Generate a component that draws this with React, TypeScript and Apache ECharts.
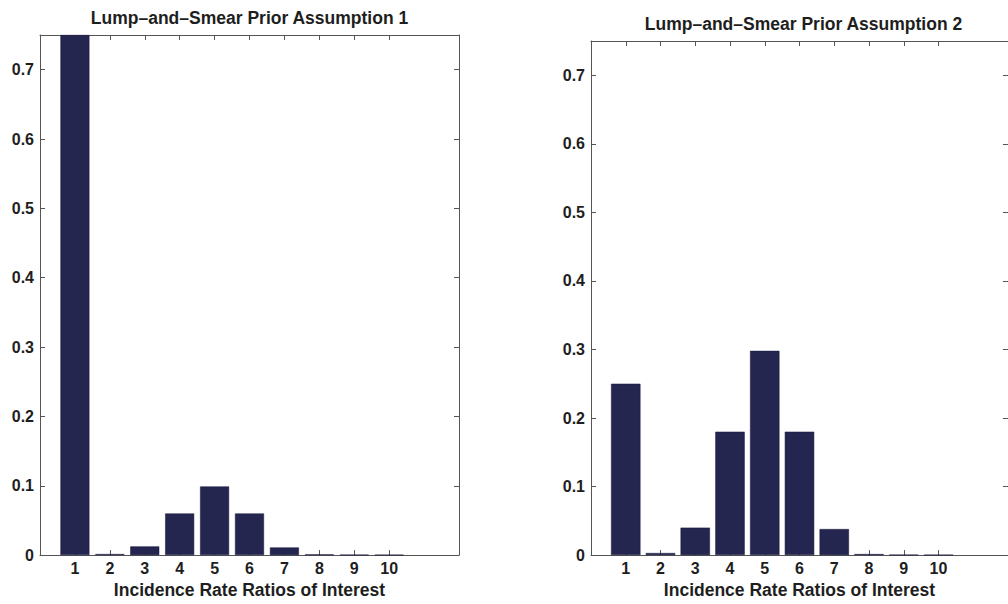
import React, { useEffect, useRef } from "react";
import * as echarts from "echarts";

const categories = [1, 2, 3, 4, 5, 6, 7, 8, 9, 10];
const prior1 = [0.75, 0.0015, 0.0125, 0.06, 0.099, 0.06, 0.011, 0.001, 0.0005, 0.0003];
const prior2 = [0.25, 0.003, 0.04, 0.18, 0.298, 0.18, 0.038, 0.0015, 0.0005, 0.0003];
const yTicks = [0, 0.1, 0.2, 0.3, 0.4, 0.5, 0.6, 0.7];
const titles = ["Lump\u2013and\u2013Smear Prior Assumption 1", "Lump\u2013and\u2013Smear Prior Assumption 2"];
const xAxisTitle = "Incidence Rate Ratios of Interest";

const FONT = "'Liberation Sans', Arial, Helvetica, sans-serif";
const TEXT = "#1e1e1e";
const AXIS = "#555555";
const BAR = "#24264f";

const grids = [
  { left: 40, top: 35, width: 419, height: 522 },
  { left: 591, top: 41, width: 425, height: 520 },
];

export default function App() {
  const ref = useRef<HTMLDivElement>(null);
  useEffect(() => {
    if (!ref.current) return;
    const chart = echarts.init(ref.current, null, { renderer: "svg" });
    const xAxes: any[] = [];
    const yAxes: any[] = [];
    const series: any[] = [];
    const graphics: any[] = [];
    const datasets = [prior1, prior2];
    grids.forEach((g, i) => {
      const common = {
        gridIndex: i,
        type: "value",
        min: 0,
        max: 12,
        axisLine: { show: true, onZero: false, lineStyle: { color: AXIS, width: 1 } },
        axisTick: { show: true, inside: true, length: 5, customValues: categories, lineStyle: { color: AXIS } },
        splitLine: { show: false },
      };
      xAxes.push({
        ...common,
        position: "bottom",
        name: xAxisTitle,
        nameLocation: "middle",
        nameGap: 24,
        nameTextStyle: { fontFamily: FONT, fontWeight: "bold", fontSize: 17.5, color: TEXT },
        axisLabel: {
          show: true,
          customValues: categories,
          margin: 5,
          fontFamily: FONT,
          fontWeight: "bold",
          fontSize: 16,
          color: TEXT,
        },
      });
      xAxes.push({ ...common, position: "top", axisLabel: { show: false } });
      const ycommon = {
        gridIndex: i,
        type: "value",
        min: 0,
        max: 0.75,
        axisLine: { show: true, onZero: false, lineStyle: { color: AXIS, width: 1 } },
        axisTick: { show: true, inside: true, length: 5, customValues: yTicks, lineStyle: { color: AXIS } },
        splitLine: { show: false },
      };
      yAxes.push({
        ...ycommon,
        position: "left",
        axisLabel: {
          show: true,
          customValues: yTicks,
          margin: 6,
          fontFamily: FONT,
          fontWeight: "bold",
          fontSize: 16,
          color: TEXT,
          formatter: (v: number) => (v === 0 ? "0" : v.toFixed(1)),
        },
      });
      yAxes.push({ ...ycommon, position: "right", axisLabel: { show: false } });
      series.push({
        type: "bar",
        xAxisIndex: i * 2,
        yAxisIndex: i * 2,
        barWidth: (g.width / 12) * 0.83,
        itemStyle: { color: BAR, borderColor: "#15173a", borderWidth: 0.5 },
        data: categories.map((c, k) => [c, datasets[i][k]]),
      });
      graphics.push({
        type: "text",
        x: g.left + g.width / 2,
        y: g.top - 17,
        style: {
          text: titles[i],
          fontFamily: FONT,
          fontWeight: "bold",
          fontSize: 17.5,
          fill: TEXT,
          textAlign: "center",
          textVerticalAlign: "middle",
        },
      });
    });
    chart.setOption({
      animation: false,
      backgroundColor: "#ffffff",
      grid: grids.map((g) => ({ ...g, containLabel: false })),
      xAxis: xAxes,
      yAxis: yAxes,
      series,
      graphic: graphics,
    });
    return () => chart.dispose();
  }, []);
  return (
    <div
      ref={ref}
      style={{ position: "fixed", left: 0, top: 0, width: 1008, height: 604, background: "#fff" }}
    />
  );
}
